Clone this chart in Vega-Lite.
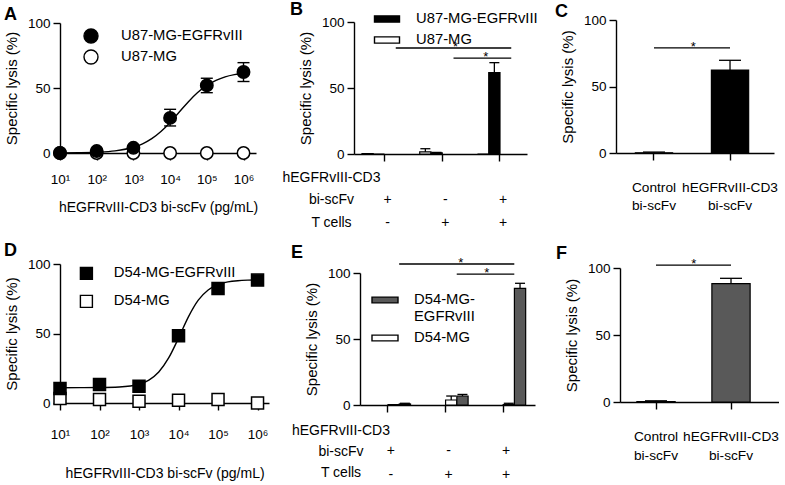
{
 "$schema": "https://vega.github.io/schema/vega-lite/v6.json",
 "background": "white",
 "padding": {"left": 4, "top": 3, "right": 0, "bottom": 0},
 "bounds": "flush",
 "align": "each",
 "columns": 3,
 "spacing": {"row": 110, "column": 85},
 "resolve": {"scale": {"fill": "independent", "x": "independent", "y": "independent"}, "legend": {"fill": "independent"}},
 "config": {
  "font": "Liberation Sans",
  "view": {"stroke": null},
  "axis": {"domainColor": "black", "domainWidth": 1.4, "tickColor": "black", "tickWidth": 1.4, "tickSize": 7, "labelColor": "black", "labelFont": "Liberation Sans", "labelFontSize": 13.5, "titleFont": "Liberation Sans", "titleColor": "black", "titleFontSize": 15, "titleFontWeight": "normal", "grid": false, "labelFlush": false, "labelOverlap": false},
  "axisY": {"titlePadding": 8, "labelPadding": 3},
  "legend": {"labelFont": "Liberation Sans", "labelFontSize": 14.8, "labelColor": "black", "padding": 0, "symbolStrokeColor": "black", "symbolStrokeWidth": 1.4},
  "title": {"font": "Liberation Sans", "fontSize": 18, "fontWeight": "bold", "anchor": "start", "frame": "group", "color": "black", "offset": 4}
 },
 "concat": [
   {
    "width": 209, "height": 133,
    "title": {"text": "A", "dx": -56, "dy": 12},
    "layer": [
     {"data": {"values": [{"x":10,"y":0.08},{"x":31.62,"y":0.21},{"x":100,"y":0.59},{"x":316.2,"y":1.63},{"x":1000,"y":4.4},{"x":1778,"y":7.05},{"x":3162,"y":11},{"x":5623,"y":16.5},{"x":10000,"y":23.5},{"x":17783,"y":31.5},{"x":31623,"y":39.5},{"x":56234,"y":46.5},{"x":100000,"y":52},{"x":177828,"y":55.9},{"x":316228,"y":58.6},{"x":562341,"y":60.3},{"x":1000000,"y":61.4}]},
      "mark": {"type": "line", "color": "black", "strokeWidth": 1.4, "interpolate": "monotone"},
      "encoding": {
       "x": {"field": "x", "type": "quantitative", "scale": {"type": "log", "domain": [10, 2190000], "range": [0, 196], "nice": false},
             "axis": {"values": [10,100,1000,10000,100000,1000000], "labelExpr": "'10' + ['⁰','¹','²','³','⁴','⁵','⁶'][round(log(datum.value)/LN10)]", "labelPadding": 12, "title": "hEGFRvIII-CD3 bi-scFv (pg/mL)", "titlePadding": 15, "titleFontSize": 14, "titleX": 98, "titleAnchor": "middle"}},
       "y": {"field": "y", "type": "quantitative", "scale": {"domain": [0,100], "range": [133,3], "nice": false},
             "axis": {"values": [0,25,50,75,100], "title": "Specific lysis (%)"}}
      }},
     {"data": {"values": [
       {"series":"U87-MG","x":10,"y":0,"lo":0,"hi":0},
       {"series":"U87-MG","x":100,"y":0,"lo":0,"hi":0},
       {"series":"U87-MG","x":1000,"y":0,"lo":0,"hi":0},
       {"series":"U87-MG","x":10000,"y":0,"lo":0,"hi":0},
       {"series":"U87-MG","x":100000,"y":0,"lo":0,"hi":0},
       {"series":"U87-MG","x":1000000,"y":0,"lo":0,"hi":0},
       {"series":"U87-MG-EGFRvIII","x":10,"y":0,"lo":0,"hi":0},
       {"series":"U87-MG-EGFRvIII","x":100,"y":1.5,"lo":1.5,"hi":1.5},
       {"series":"U87-MG-EGFRvIII","x":1000,"y":4,"lo":4,"hi":4},
       {"series":"U87-MG-EGFRvIII","x":10000,"y":27,"lo":20.8,"hi":33.6},
       {"series":"U87-MG-EGFRvIII","x":100000,"y":52,"lo":46.4,"hi":57.5},
       {"series":"U87-MG-EGFRvIII","x":1000000,"y":62.3,"lo":55,"hi":69.5}]},
      "layer": [
       {"transform": [{"filter": "datum.hi > datum.lo"}], "mark": {"type": "rule", "color": "black", "strokeWidth": 1.4},
        "encoding": {"x": {"field": "x", "type": "quantitative"}, "y": {"field": "lo", "type": "quantitative"}, "y2": {"field": "hi"}}},
       {"transform": [{"filter": "datum.hi > datum.lo"}], "mark": {"type": "tick", "orient": "horizontal", "size": 12, "thickness": 1.4, "color": "black", "opacity": 1},
        "encoding": {"x": {"field": "x", "type": "quantitative"}, "y": {"field": "hi", "type": "quantitative"}}},
       {"transform": [{"filter": "datum.hi > datum.lo"}], "mark": {"type": "tick", "orient": "horizontal", "size": 12, "thickness": 1.4, "color": "black", "opacity": 1},
        "encoding": {"x": {"field": "x", "type": "quantitative"}, "y": {"field": "lo", "type": "quantitative"}}},
       {"mark": {"type": "point", "shape": "circle", "filled": true, "size": 154, "stroke": "black", "strokeWidth": 1.5, "opacity": 1},
        "encoding": {"x": {"field": "x", "type": "quantitative"}, "y": {"field": "y", "type": "quantitative"},
         "fill": {"field": "series", "type": "nominal", "scale": {"domain": ["U87-MG-EGFRvIII", "U87-MG"], "range": ["black", "white"]},
          "legend": {"title": null, "orient": "none", "legendX": 23, "legendY": 8, "symbolSize": 196, "labelOffset": 22, "rowPadding": 1,
           "encode": {"symbols": {"update": {"shape": {"signal": "datum.value == 'U87-MG-EGFRvIII' ? 'M-2,0H2M1,0A1,1,0,1,1,-1,0A1,1,0,1,1,1,0Z' : 'M1,0A1,1,0,1,1,-1,0A1,1,0,1,1,1,0Z'"}}}}}}}}
      ]}
    ]
   },
   {
     "width": 177, "height": 134,
     "layer": [
      {"data": {"values": [
        {"group":"+ -","series":"U87-MG","value":0.3,"hi":0.3},
        {"group":"+ -","series":"U87-MG-EGFRvIII","value":0,"hi":0},
        {"group":"- +","series":"U87-MG","value":1.6,"hi":4.0},
        {"group":"- +","series":"U87-MG-EGFRvIII","value":0.8,"hi":1.2},
        {"group":"+ +","series":"U87-MG","value":0,"hi":0},
        {"group":"+ +","series":"U87-MG-EGFRvIII","value":61.6,"hi":69.2}]},
       "layer": [
        {"mark": {"type": "bar", "stroke": "black", "strokeWidth": 1.2},
         "encoding": {
          "x": {"field": "group", "type": "nominal", "scale": {"domain": ["+ -", "- +", "+ +"], "range": [0, 173], "paddingInner": 0.22, "paddingOuter": 0.108, "align": 0.64},
                "axis": {"labelExpr": "split(datum.label, ' ')", "labelAngle": 0, "labelPadding": 31, "labelLineHeight": 23, "labelFontSize": 14, "labelOffset": 3,
                         "title": ["hEGFRvIII-CD3", "bi-scFv", "T cells"], "titleAlign": "center", "titleX": -23, "titleY": 16, "titleBaseline": "top", "titleLineHeight": 22.5, "titleFontSize": 14}},
          "xOffset": {"field": "series", "type": "nominal", "scale": {"domain": ["U87-MG", "U87-MG-EGFRvIII"], "paddingInner": 0, "paddingOuter": 0}},
          "y": {"field": "value", "type": "quantitative", "scale": {"domain": [0,100], "range": [134,2], "nice": false}, "axis": {"values": [0,25,50,75,100], "title": "Specific lysis (%)"}},
          "fill": {"field": "series", "type": "nominal", "scale": {"domain": ["U87-MG-EGFRvIII", "U87-MG"], "range": ["black", "white"]},
                   "legend": {"title": "B", "titleOrient": "left", "titleAngle": 0, "titleAnchor": "start", "titleBaseline": "line-top", "titleLineHeight": 8, "titleFontSize": 18, "titleFontWeight": "bold", "titleFont": "Liberation Sans", "titleColor": "black", "titlePadding": 70.5,
                              "orient": "none", "legendX": -64, "legendY": -14.5, "symbolType": "M-1,-0.25H1V0.25H-1Z", "symbolSize": 625, "labelOffset": 15.5, "rowPadding": 0}}
         }},
        {"transform": [{"filter": "datum.hi > datum.value"}], "mark": {"type": "rule", "color": "black", "strokeWidth": 1.3},
         "encoding": {"x": {"field": "group", "type": "nominal"}, "xOffset": {"field": "series", "type": "nominal"}, "y": {"field": "value", "type": "quantitative"}, "y2": {"field": "hi"}}},
        {"transform": [{"filter": "datum.hi > datum.value"}], "mark": {"type": "tick", "orient": "horizontal", "size": 10, "thickness": 1.3, "color": "black", "opacity": 1},
         "encoding": {"x": {"field": "group", "type": "nominal"}, "xOffset": {"field": "series", "type": "nominal"}, "y": {"field": "hi", "type": "quantitative"}}}
       ]},
      {"data": {"values": [{"from": "+ -", "to": "+ +", "mid": "- +"}]},
       "layer": [
        {"mark": {"type": "rule", "color": "black", "strokeWidth": 1.3},
         "encoding": {"x": {"field": "from", "type": "nominal", "bandPosition": 0.75}, "x2": {"field": "to", "bandPosition": 0.75}, "y": {"datum": 80.3}}},
        {"mark": {"type": "text", "text": "*", "fontSize": 13, "baseline": "alphabetic", "dy": 3, "dx": 2, "color": "black"},
         "encoding": {"x": {"field": "mid", "type": "nominal", "bandPosition": 0.75}, "y": {"datum": 80.3}}}
       ]},
      {"data": {"values": [{"from": "- +", "to": "+ +"}]},
       "layer": [
        {"mark": {"type": "rule", "color": "black", "strokeWidth": 1.3},
         "encoding": {"x": {"field": "from", "type": "nominal", "bandPosition": 0.75}, "x2": {"field": "to", "bandPosition": 0.75}, "y": {"datum": 72.7}}},
        {"mark": {"type": "text", "text": "*", "fontSize": 13, "baseline": "alphabetic", "dy": 3, "dx": -3, "color": "black"},
         "encoding": {"x": {"field": "to", "type": "nominal", "bandPosition": 0.25}, "y": {"datum": 72.7}}}
       ]}
     ]
   },
   {
     "width": 158, "height": 133,
     "title": {"text": "C", "dx": -61, "dy": 12},
     "layer": [
      {"data": {"values": [{"cond": "Control bi-scFv", "value": 0.2, "hi": 0.7}, {"cond": "hEGFRvIII-CD3 bi-scFv", "value": 62.4, "hi": 69.7}]},
       "layer": [
        {"mark": {"type": "bar", "fill": "black", "stroke": "black", "strokeWidth": 1.2},
         "encoding": {
          "x": {"field": "cond", "type": "nominal", "scale": {"domain": ["Control bi-scFv", "hEGFRvIII-CD3 bi-scFv"], "range": [0, 158], "paddingInner": 0.51, "paddingOuter": 0.294, "align": 0.433},
                "axis": {"labelExpr": "split(datum.label, ' ')", "labelAngle": 0, "labelPadding": 20, "labelLineHeight": 18.5, "labelFontSize": 13.7, "title": null}},
          "y": {"field": "value", "type": "quantitative", "scale": {"domain": [0,100], "range": [133,0], "nice": false}, "axis": {"values": [0,25,50,75,100], "title": "Specific lysis (%)"}}
         }},
        {"mark": {"type": "rule", "color": "black", "strokeWidth": 1.3},
         "encoding": {"x": {"field": "cond", "type": "nominal"}, "y": {"field": "value", "type": "quantitative"}, "y2": {"field": "hi"}}},
        {"mark": {"type": "tick", "orient": "horizontal", "size": 22, "thickness": 1.3, "color": "black", "opacity": 1},
         "encoding": {"x": {"field": "cond", "type": "nominal"}, "y": {"field": "hi", "type": "quantitative"}}}
       ]},
      {"data": {"values": [{"from": "Control bi-scFv", "to": "hEGFRvIII-CD3 bi-scFv"}]},
       "layer": [
        {"mark": {"type": "rule", "color": "black", "strokeWidth": 1.3},
         "encoding": {"x": {"field": "from", "type": "nominal"}, "x2": {"field": "to"}, "y": {"datum": 79}}},
        {"mark": {"type": "text", "text": "*", "fontSize": 13, "baseline": "alphabetic", "dy": 3, "dx": -18, "color": "black"},
         "encoding": {"x": {"field": "to", "type": "nominal", "bandPosition": 0}, "y": {"datum": 79}}}
       ]}
     ]
   },
   {
    "width": 209, "height": 139,
    "title": {"text": "D", "dx": -56, "dy": 7},
    "layer": [
     {"data": {"values": [{"x":10,"y":11.0},{"x":31.62,"y":11.03},{"x":100,"y":11.1},{"x":316.2,"y":11.5},{"x":1000,"y":13.5},{"x":1778,"y":16.5},{"x":3162,"y":22.3},{"x":5623,"y":32.4},{"x":10000,"y":46.7},{"x":17783,"y":62},{"x":31623,"y":74},{"x":56234,"y":81.3},{"x":100000,"y":85.2},{"x":177828,"y":87.1},{"x":316228,"y":88},{"x":562341,"y":88.4},{"x":1000000,"y":88.55}]},
      "mark": {"type": "line", "color": "black", "strokeWidth": 1.4, "interpolate": "monotone"},
      "encoding": {
       "x": {"field": "x", "type": "quantitative", "scale": {"type": "log", "domain": [10, 1950000], "range": [0, 209], "nice": false},
             "axis": {"values": [10,100,1000,10000,100000,1000000], "labelExpr": "'10' + ['⁰','¹','²','³','⁴','⁵','⁶'][round(log(datum.value)/LN10)]", "labelPadding": 17, "title": "hEGFRvIII-CD3 bi-scFv (pg/mL)", "titlePadding": 26, "titleFontSize": 14, "titleX": 104.5, "titleAnchor": "middle"}},
       "y": {"field": "y", "type": "quantitative", "scale": {"domain": [0,100], "range": [139,0], "nice": false},
             "axis": {"values": [0,25,50,75,100], "title": "Specific lysis (%)"}}
      }},
     {"data": {"values": [
       {"series":"D54-MG","x":10,"y":3.2},
       {"series":"D54-MG","x":100,"y":2.5},
       {"series":"D54-MG","x":1000,"y":1.2},
       {"series":"D54-MG","x":10000,"y":2},
       {"series":"D54-MG","x":100000,"y":2.5},
       {"series":"D54-MG","x":1000000,"y":0},
       {"series":"D54-MG-EGFRvIII","x":10,"y":10.5},
       {"series":"D54-MG-EGFRvIII","x":100,"y":13.3},
       {"series":"D54-MG-EGFRvIII","x":1000,"y":12.1},
       {"series":"D54-MG-EGFRvIII","x":10000,"y":48.4},
       {"series":"D54-MG-EGFRvIII","x":100000,"y":82.3},
       {"series":"D54-MG-EGFRvIII","x":1000000,"y":88.4}]},
      "mark": {"type": "point", "shape": "square", "filled": true, "size": 144, "stroke": "black", "strokeWidth": 1.5, "opacity": 1},
      "encoding": {"x": {"field": "x", "type": "quantitative"}, "y": {"field": "y", "type": "quantitative"},
       "fill": {"field": "series", "type": "nominal", "scale": {"domain": ["D54-MG-EGFRvIII", "D54-MG"], "range": ["black", "white"]},
        "legend": {"title": null, "orient": "none", "legendX": 19, "legendY": 2, "symbolSize": 144, "labelOffset": 20, "rowPadding": 9,
         "encode": {"symbols": {"update": {"shape": {"signal": "datum.value == 'D54-MG-EGFRvIII' ? 'M-2.3,0H2.3M-1,-1H1V1H-1Z' : 'M-1,-1H1V1H-1Z'"}}}}}}}}
    ]
   },
   {
     "width": 177, "height": 141,
     "title": {"text": "E", "dx": -63, "dy": 9},
     "layer": [
      {"data": {"values": [
        {"group":"+ -","series":"D54-MG","value":0.3,"hi":0.3},
        {"group":"+ -","series":"D54-MG-EGFRvIII","value":0.8,"hi":1.3},
        {"group":"- +","series":"D54-MG","value":3.8,"hi":6.8},
        {"group":"- +","series":"D54-MG-EGFRvIII","value":6.8,"hi":8.0},
        {"group":"+ +","series":"D54-MG","value":0.3,"hi":1.3},
        {"group":"+ +","series":"D54-MG-EGFRvIII","value":88.4,"hi":92.2}]},
       "layer": [
        {"mark": {"type": "bar", "stroke": "black", "strokeWidth": 1.2},
         "encoding": {
          "x": {"field": "group", "type": "nominal", "scale": {"domain": ["+ -", "- +", "+ +"], "range": [6, 181], "paddingInner": 0.22, "paddingOuter": 0.13, "align": 0.367},
                "axis": {"labelExpr": "split(datum.label, ' ')", "labelAngle": 0, "labelPadding": 31, "labelLineHeight": 24, "labelFontSize": 14, "labelOffset": 3,
                         "title": ["hEGFRvIII-CD3", "bi-scFv", "T cells"], "titleAlign": "center", "titleX": -13.5, "titleY": 18, "titleBaseline": "top", "titleLineHeight": 21, "titleFontSize": 14}},
          "xOffset": {"field": "series", "type": "nominal", "scale": {"domain": ["D54-MG", "D54-MG-EGFRvIII"], "paddingInner": 0, "paddingOuter": 0}},
          "y": {"field": "value", "type": "quantitative", "scale": {"domain": [0,100], "range": [141,9], "nice": false}, "axis": {"values": [0,25,50,75,100], "title": "Specific lysis (%)", "offset": -6}},
          "fill": {"field": "series", "type": "nominal", "scale": {"domain": ["D54-MG-EGFRvIII", "D54-MG"], "range": ["#595959", "white"]},
                   "legend": {"title": null, "orient": "none", "legendX": 17, "legendY": 22, "symbolType": "M-1,-0.22H1V0.22H-1Z", "symbolSize": 676, "labelOffset": 15, "rowPadding": -16, "labelLineHeight": 20,
                              "labelExpr": "datum.label == 'D54-MG-EGFRvIII' ? ['D54-MG-', 'EGFRvIII'] : datum.label"}}
         }},
        {"transform": [{"filter": "datum.hi > datum.value"}], "mark": {"type": "rule", "color": "black", "strokeWidth": 1.3},
         "encoding": {"x": {"field": "group", "type": "nominal"}, "xOffset": {"field": "series", "type": "nominal"}, "y": {"field": "value", "type": "quantitative"}, "y2": {"field": "hi"}}},
        {"transform": [{"filter": "datum.hi > datum.value"}], "mark": {"type": "tick", "orient": "horizontal", "size": 10, "thickness": 1.3, "color": "black", "opacity": 1},
         "encoding": {"x": {"field": "group", "type": "nominal"}, "xOffset": {"field": "series", "type": "nominal"}, "y": {"field": "hi", "type": "quantitative"}}}
       ]},
      {"data": {"values": [{"from": "+ -", "to": "+ +", "mid": "- +"}]},
       "layer": [
        {"mark": {"type": "rule", "color": "black", "strokeWidth": 1.3},
         "encoding": {"x": {"field": "from", "type": "nominal", "bandPosition": 0.75}, "x2": {"field": "to", "bandPosition": 0.75}, "y": {"datum": 106.8}}},
        {"mark": {"type": "text", "text": "*", "fontSize": 13, "baseline": "alphabetic", "dy": 3, "dx": 4, "color": "black"},
         "encoding": {"x": {"field": "mid", "type": "nominal", "bandPosition": 0.75}, "y": {"datum": 106.8}}}
       ]},
      {"data": {"values": [{"from": "- +", "to": "+ +"}]},
       "layer": [
        {"mark": {"type": "rule", "color": "black", "strokeWidth": 1.3},
         "encoding": {"x": {"field": "from", "type": "nominal", "bandPosition": 0.75}, "x2": {"field": "to", "bandPosition": 0.75}, "y": {"datum": 99.2}}},
        {"mark": {"type": "text", "text": "*", "fontSize": 13, "baseline": "alphabetic", "dy": 3, "dx": -5, "color": "black"},
         "encoding": {"x": {"field": "to", "type": "nominal", "bandPosition": 0.25}, "y": {"datum": 99.2}}}
       ]}
     ]
   },
   {
     "width": 163, "height": 138,
     "title": {"text": "F", "dx": -60, "dy": 9},
     "layer": [
      {"data": {"values": [{"cond": "Control bi-scFv", "value": 0.3, "hi": 0.9}, {"cond": "hEGFRvIII-CD3 bi-scFv", "value": 88.3, "hi": 92.3}]},
       "layer": [
        {"mark": {"type": "bar", "fill": "#595959", "stroke": "black", "strokeWidth": 1.2},
         "encoding": {
          "x": {"field": "cond", "type": "nominal", "scale": {"domain": ["Control bi-scFv", "hEGFRvIII-CD3 bi-scFv"], "range": [4, 163], "paddingInner": 0.49, "paddingOuter": 0.305, "align": 0.369},
                "axis": {"labelExpr": "split(datum.label, ' ')", "labelAngle": 0, "labelPadding": 20, "labelLineHeight": 19, "labelFontSize": 13.7, "title": null}},
          "y": {"field": "value", "type": "quantitative", "scale": {"domain": [0,100], "range": [138,4], "nice": false}, "axis": {"values": [0,25,50,75,100], "title": "Specific lysis (%)", "offset": -4}}
         }},
        {"mark": {"type": "rule", "color": "black", "strokeWidth": 1.3},
         "encoding": {"x": {"field": "cond", "type": "nominal"}, "y": {"field": "value", "type": "quantitative"}, "y2": {"field": "hi"}}},
        {"mark": {"type": "tick", "orient": "horizontal", "size": 22, "thickness": 1.3, "color": "black", "opacity": 1},
         "encoding": {"x": {"field": "cond", "type": "nominal"}, "y": {"field": "hi", "type": "quantitative"}}}
       ]},
      {"data": {"values": [{"from": "Control bi-scFv", "to": "hEGFRvIII-CD3 bi-scFv"}]},
       "layer": [
        {"mark": {"type": "rule", "color": "black", "strokeWidth": 1.3},
         "encoding": {"x": {"field": "from", "type": "nominal"}, "x2": {"field": "to"}, "y": {"datum": 102.2}}},
        {"mark": {"type": "text", "text": "*", "fontSize": 13, "baseline": "alphabetic", "dy": 3, "dx": -18, "color": "black"},
         "encoding": {"x": {"field": "to", "type": "nominal", "bandPosition": 0}, "y": {"datum": 102.2}}}
       ]}
     ]
   }
 ]
}
